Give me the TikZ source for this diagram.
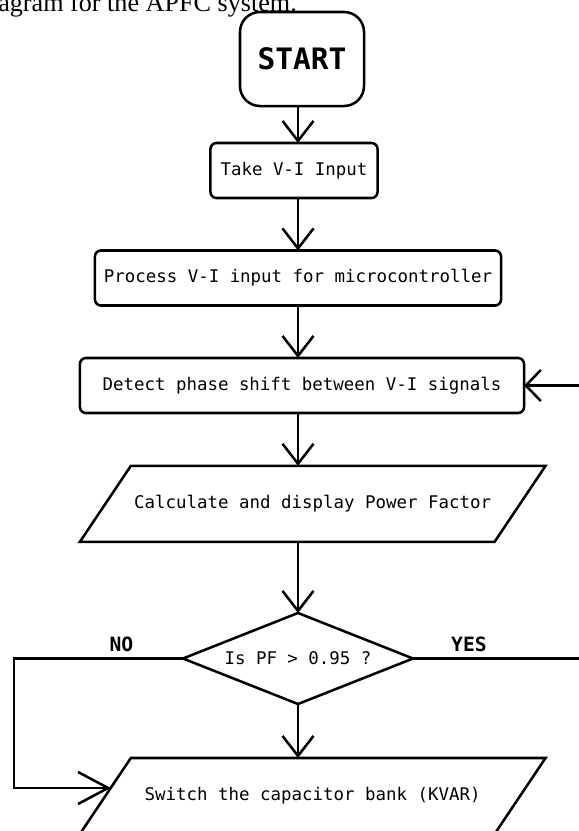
\documentclass[tikz,border=0pt]{standalone}
\usepackage{fontspec}
\setmainfont{Liberation Serif}
\setmonofont{DejaVu Sans Mono}
\usetikzlibrary{positioning, arrows.meta, calc, shapes.geometric}
% slanted outline round a plain node (25.5 units of shift each side)
\newcommand{\slantbox}[1]{\draw ($(#1.south west)+(-25.5,0)$) -- ($(#1.north west)+(25.5,0)$) -- ($(#1.north east)+(25.5,0)$) -- ($(#1.south east)+(-25.5,0)$) -- cycle;}

\begin{document}
\begin{tikzpicture}[x=0.025cm, y=-0.025cm, line width=1.8pt,
  box/.style={draw, rounded corners=0.15cm, minimum height=1.375cm, inner sep=0pt, outer sep=0pt, font=\ttfamily\fontsize{12.4}{14}\selectfont},
  startbox/.style={draw, rounded corners=0.5cm, minimum width=3.1cm, minimum height=2.35cm, inner sep=0pt, outer sep=0pt, font=\ttfamily\bfseries\fontsize{21}{24}\selectfont},
  para/.style={minimum width=10.365cm, minimum height=1.9cm, inner sep=0pt, outer sep=0pt, font=\ttfamily\fontsize{12.4}{14}\selectfont},
  cond/.style={draw, diamond, aspect=2.53, minimum width=5.75cm, minimum height=2.275cm, inner sep=0pt, outer sep=0pt, font=\ttfamily\fontsize{12.4}{14}\selectfont},
  lab/.style={font=\ttfamily\bfseries\fontsize{14}{16}\selectfont, inner sep=0pt},
  captext/.style={font=\fontsize{18.6}{22}\selectfont, inner sep=0pt},
  flow/.style={-{Straight Barb[length=0.5cm,width=0.775cm]}}]
\useasboundingbox (0,0) rectangle (579,831);
\clip (0,0) rectangle (579,831);
% caption cut by the top edge
\node[captext, anchor=base west] (cap) at (-3,11) {agram for the APFC system.};
% blocks of the chart
\node[startbox] (start) at (302,59) {START};
\node[box, minimum width=4.175cm] (take) at (294,170.5) {Take V-I Input};
\node[box, minimum width=10.15cm] (proc) at (298,278) {Process V-I input for microcontroller};
\node[box, minimum width=11.1cm] (det) at (302,385.5) {Detect phase shift between V-I signals};
\node[para] (calc) at (312.7,503.85) {Calculate and display Power Factor}; \slantbox{calc}
\node[cond] (dec) at (298,658.5) {Is PF > 0.95 ?};
\node[para] (sw) at (312.7,796) {Switch the capacitor bank (KVAR)}; \slantbox{sw}
\node[lab] (no) at (121.5,644.5) {NO};
\node[lab] (yes) at (469,644.5) {YES};
% connectors
\coordinate (spine) at (298,0); \coordinate (nox) at (14,0); \coordinate (loopx) at (592,0);
\coordinate (noend) at ($(sw.west)+(5.4,-8)$);
\draw[flow] (start.south -| spine) -- (take.north -| spine);
\draw[flow] (take.south -| spine) -- (proc.north -| spine);
\draw[flow] (proc.south -| spine) -- (det.north -| spine);
\draw[flow] (det.south -| spine) -- (calc.north -| spine);
\draw[flow] (calc.south -| spine) -- (dec.north);
\draw[flow] (dec.south) -- (sw.north -| spine);
\draw[-{Straight Barb[length=0.75cm,width=0.8cm]}] (dec.west) -- (dec.west -| nox) |- (noend);
\draw[-{Straight Barb[length=0.375cm,width=0.775cm]}] (dec.east) -- (dec.east -| loopx) |- (det.east);
\end{tikzpicture}
\end{document}
